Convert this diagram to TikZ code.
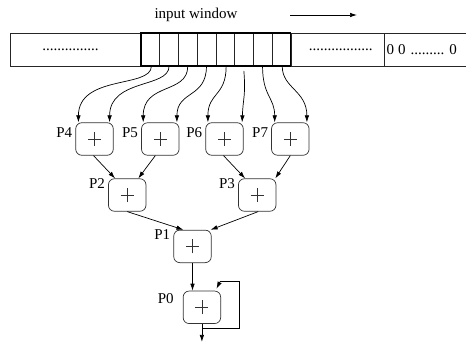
\documentclass[tikz,border=0pt]{standalone}
\usepackage{fontspec}
\setmainfont{Liberation Serif}
\usetikzlibrary{arrows.meta,calc}

\begin{document}
\begin{tikzpicture}[x=1pt,y=-1pt,
  font=\fontsize{15}{17}\selectfont,
  bar/.style={draw=black!85, line width=0.7pt},
  cellbox/.style={draw=black!85, line width=0.6pt, minimum width=18.7pt, minimum height=33pt, inner sep=0pt},
  window/.style={draw=black, line width=1.5pt},
  adder/.style={draw=black!80, line width=0.7pt, rounded corners=6pt,
    minimum width=37.5pt, minimum height=32.5pt, inner sep=0pt,
    path picture={
      \draw[black!80, line width=0.6pt]
        ([xshift=-6.5pt]path picture bounding box.center) -- ([xshift=6.5pt]path picture bounding box.center)
        ([yshift=-7pt]path picture bounding box.center) -- ([yshift=7pt]path picture bounding box.center);
    }},
  lbl/.style={inner sep=0pt, anchor=base east},
  link/.style={draw=black, line width=0.7pt, -{Latex[length=7pt,width=4.5pt]}},
]
\useasboundingbox (0,0) rectangle (466,342);

% caption and direction of the moving window
\node (cap) at (196,15) {input window};
\coordinate (dirA) at (290,15);
\coordinate (dirB) at (357,15);
\draw[link] (dirA) -- (dirB);

% input stream
\draw[bar] (10,33) rectangle (141,66);
\draw[bar] (291,33) rectangle (384,66);
\draw[bar] (466,33) -- (384,33) -- (384,66) -- (466,66);
\node (dotsL) at (70.5,50) {...............};
\node (dotsR) at (340.8,50) {.................};
\node[anchor=west, inner sep=0pt] (zeros) at (386.5,50)
  {0\hspace{4pt}0\hspace{5pt}.........\hspace{5pt}0};

% the eight cells of the window
\foreach \i in {1,...,8} {
  \node[cellbox] (c\i) at ({141+18.7*(\i-0.5)},49.5) {};
}
\node[window, minimum width=149.6pt, minimum height=33pt, inner sep=0pt] (win) at (215.8,49.5) {};

% adder tree
\node[adder] (p4) at (94.5,139) {};
\node[adder] (p5) at (160.3,139) {};
\node[adder] (p6) at (224.5,139) {};
\node[adder] (p7) at (290.3,139) {};
\node[adder] (p2) at (127.2,195) {};
\node[adder] (p3) at (257.2,195) {};
\node[adder] (p1) at (192.5,246.4) {};
\node[adder] (p0) at (201.9,307.3) {};

\node[lbl] (l4) at ([xshift=-3pt,yshift=-15.6pt]p4.north west) {P4};
\node[lbl] (l5) at ([xshift=-3pt,yshift=-15.6pt]p5.north west) {P5};
\node[lbl] (l6) at ([xshift=-3pt,yshift=-15.6pt]p6.north west) {P6};
\node[lbl] (l7) at ([xshift=-3pt,yshift=-15.6pt]p7.north west) {P7};
\node[lbl] (l2) at ([xshift=-3pt,yshift=-10pt]p2.north west) {P2};
\node[lbl] (l3) at ([xshift=-3pt,yshift=-10pt]p3.north west) {P3};
\node[lbl] (l1) at ([xshift=-3pt,yshift=-9.5pt]p1.north west) {P1};
\node[lbl] (l0) at ([xshift=-9pt,yshift=-12.7pt]p0.north west) {P0};

% cells feed the leaf adders
\draw[link] ([xshift=1pt]c1.south) .. controls +(0,22) and +(0,-48) .. ([xshift=3pt]p4.north west);
\draw[link] (c2.south) .. controls +(0,22) and +(0,-44) .. ([xshift=-4pt]p4.north east);
\draw[link] (c3.south) .. controls +(0,28) and +(0,-40) .. ([xshift=2pt]p5.north west);
\draw[link] (c4.south) .. controls +(0,32) and +(0,-32) .. ([xshift=-2.5pt]p5.north east);
\draw[link] ([xshift=1pt]c5.south) .. controls +(0,30) and +(0,-30) .. ([xshift=2.5pt]p6.north west);
\draw[link] ([yshift=-4.5pt]c6.south) .. controls +(2,25) and +(1,-25) .. ([xshift=-1.5pt]p6.north east);
\draw[link] (c7.south) .. controls +(0,30) and +(0,-25) .. ([xshift=3.5pt]p7.north west);
\draw[link] ([xshift=1pt]c8.south) .. controls +(0,22) and +(0,-32) .. ([xshift=-2.5pt]p7.north east);

% adders combine pairwise
\draw[link] ([xshift=-1pt]p4.south) -- ([xshift=7pt]p2.north west);
\draw[link] ([xshift=-5pt]p5.south) -- ([xshift=-8pt]p2.north east);
\draw[link] ([xshift=-1pt]p6.south) -- ([xshift=7pt]p3.north west);
\draw[link] (p7.south) -- ([xshift=-1pt]p3.north east);
\draw[link] (p2.south) -- ([xshift=10pt]p1.north west);
\draw[link] ([xshift=1pt]p3.south) -- ([xshift=-1pt]p1.north east);
\draw[link] (p1.south) -- (p1.south |- p0.north);

% accumulator output with feedback
\coordinate (out) at ([yshift=-18pt]p0.south);
\draw[link] (p0.south) -- (out);
\coordinate (fbA) at ([yshift=-4pt]p0.south);
\coordinate (fbB) at (239,281.7);
\coordinate (fbC) at (220,281.7);
\draw[draw=black, line width=0.7pt] (fbA) -| (fbB) -- (fbC);
\draw[link] (fbC) -- ([xshift=-4.5pt,yshift=2pt]p0.north east);
\end{tikzpicture}
\end{document}
